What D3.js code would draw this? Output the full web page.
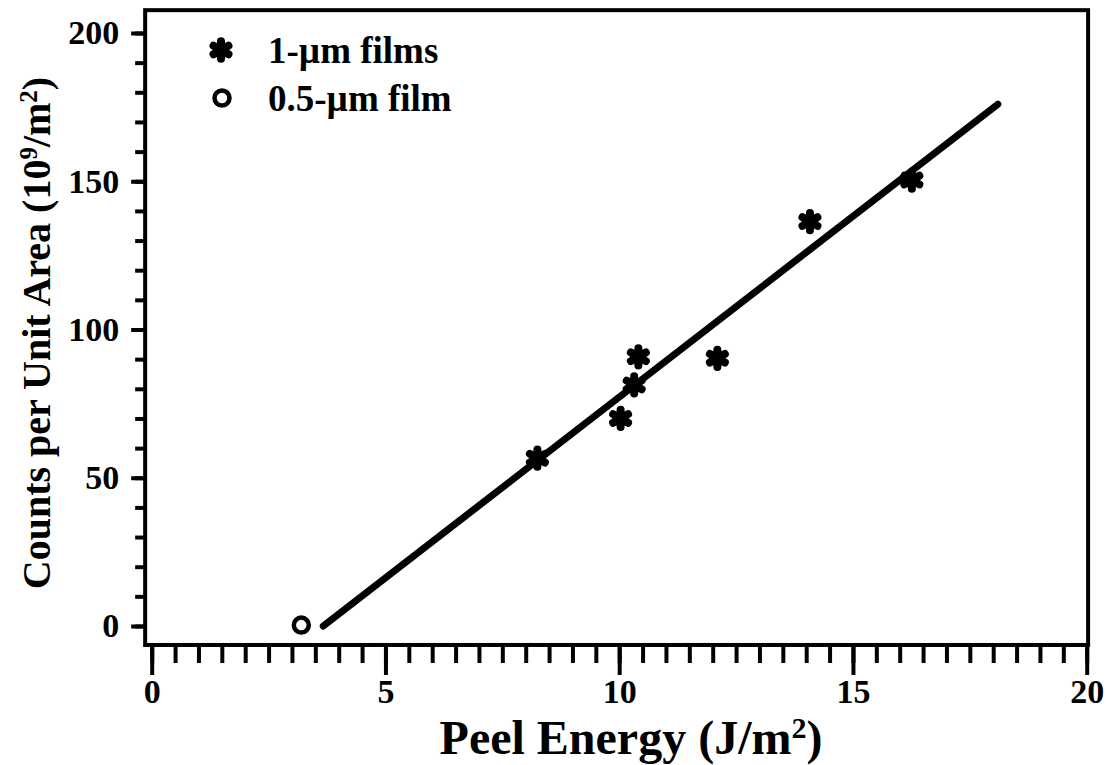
<!DOCTYPE html>
<html>
<head>
<meta charset="utf-8">
<script src="https://cdn.jsdelivr.net/npm/d3@7"></script>
<style>
  body { margin: 0; background: #fff; }
  text { font-family: "Liberation Serif", "Times New Roman", serif; font-weight: bold; fill: #000; }
</style>
</head>
<body>
<script>

// 1-um films (asterisks)
var peel_thick = [8.25, 10.03, 10.32, 10.41, 12.1, 14.08, 16.26];
var count_thick = [56.6, 70.0, 81.3, 90.8, 90.3, 136.4, 150.4];

// 0.5-um film (open circle)
var peel_thin = [3.2];
var count_thin = [0.3];

// fitted line ends
var fit_peel = [3.67, 18.1];
var fit_count = [0, 176];

var x_ticks = [0, 5, 10, 15, 20];
var y_ticks = [0, 50, 100, 150, 200];
var legend_labels = ["1-\u00b5m films", "0.5-\u00b5m film"];

var w = 1107, h = 765;

var svg = d3.select("body")
  .append("svg")
  .attr("width", w)
  .attr("height", h);

var x = d3.scaleLinear()
  .domain([0, 20])
  .range([151.7, 1086.7]);

var y = d3.scaleLinear()
  .domain([0, 200])
  .range([626, 33]);

// frame edges (top/bottom named so they don't clash with window.top)
var frameL = x(-0.14), frameR = x(20.03),
    frameT = y(207.7), frameB = y(-6.4);

//minor + major ticks, x axis
var xMinor = d3.axisBottom(x)
  .tickValues(d3.range(0, 20.01, 0.5))
  .tickSize(18)
  .tickFormat("");

svg.append("g")
  .attr("transform", "translate(0," + frameB + ")")
  .call(xMinor)
  .call(g => g.select(".domain").remove())
  .selectAll("line").attr("stroke-width", 4);

var xAxis = d3.axisBottom(x)
  .tickValues(x_ticks)
  .tickSize(30)
  .tickPadding(4)
  .tickFormat(d3.format("d"));

svg.append("g")
  .attr("transform", "translate(0," + frameB + ")")
  .call(xAxis)
  .call(g => g.select(".domain").remove())
  .call(g => g.selectAll("line").attr("stroke-width", 4))
  .selectAll("text")
  .style("font-size", "34px");

//y axis
var yMinor = d3.axisLeft(y)
  .tickValues(d3.range(0, 200.1, 10))
  .tickSize(10)
  .tickFormat("");

svg.append("g")
  .attr("transform", "translate(" + frameL + ",0)")
  .call(yMinor)
  .call(g => g.select(".domain").remove())
  .selectAll("line").attr("stroke-width", 4);

var yAxis = d3.axisLeft(y)
  .tickValues(y_ticks)
  .tickSize(14)
  .tickPadding(12)
  .tickFormat(d3.format("d"));

svg.append("g")
  .attr("transform", "translate(" + frameL + ",0)")
  .call(yAxis)
  .call(g => g.select(".domain").remove())
  .call(g => g.selectAll("line").attr("stroke-width", 4))
  .selectAll("text")
  .style("font-size", "34px");

// frame
svg.append("rect")
  .attr("x", frameL)
  .attr("y", frameT)
  .attr("width", frameR - frameL)
  .attr("height", frameB - frameT)
  .attr("fill", "none")
  .attr("stroke", "#000")
  .attr("stroke-width", 4);

// fit line
var line = d3.line()
  .x((d, i) => x(fit_peel[i]))
  .y((d) => y(d));

svg.append("path")
  .attr("d", line(fit_count))
  .attr("fill", "none")
  .attr("stroke", "#000")
  .attr("stroke-width", 7)
  .attr("stroke-linecap", "round");

// asterisks
var star = d3.symbol().type(d3.symbolAsterisk).size(210);

svg.selectAll(".star")
  .data(peel_thick)
  .enter()
  .append("path")
  .attr("class", "star")
  .attr("d", star)
  .attr("transform", (d, i) => "translate(" + x(d) + "," + y(count_thick[i]) + ")")
  .attr("fill", "none")
  .attr("stroke", "#000")
  .attr("stroke-width", 8)
  .attr("stroke-linecap", "round");

svg.selectAll(".ring")
  .data(peel_thin)
  .enter()
  .append("circle")
  .attr("class", "ring")
  .attr("cx", (d) => x(d))
  .attr("cy", (d, i) => y(count_thin[i]))
  .attr("r", 7.5)
  .attr("fill", "none")
  .attr("stroke", "#000")
  .attr("stroke-width", 4.5);

// legend
var lg = svg.append("g");

lg.append("path")
  .attr("d", star)
  .attr("transform", "translate(221,50)")
  .attr("fill", "none")
  .attr("stroke", "#000")
  .attr("stroke-width", 8)
  .attr("stroke-linecap", "round");

lg.append("circle")
  .attr("cx", 222)
  .attr("cy", 98)
  .attr("r", 7.5)
  .attr("fill", "none")
  .attr("stroke", "#000")
  .attr("stroke-width", 4.5);

lg.selectAll(".lt")
  .data(legend_labels)
  .enter()
  .append("text")
  .attr("class", "lt")
  .attr("x", 268)
  .attr("y", (d, i) => 50 + i * 48)
  .attr("dy", "0.35em")
  .style("font-size", "37px")
  .text((d) => d);

// axis titles
var xt = svg.append("text")
  .attr("x", 631)
  .attr("y", 754)
  .attr("text-anchor", "middle")
  .style("font-size", "48px")
  .text("Peel Energy (J/m");
xt.append("tspan").attr("baseline-shift", "super").style("font-size", "30px").text("2");
xt.append("tspan").text(")");

var yt = svg.append("text")
  .attr("transform", "translate(50," + 333 + ") rotate(-90)")
  .attr("text-anchor", "middle")
  .style("font-size", "40px")
  .text("Counts per Unit Area (10");
yt.append("tspan").attr("baseline-shift", "super").style("font-size", "25px").text("9");
yt.append("tspan").text("/m");
yt.append("tspan").attr("baseline-shift", "super").style("font-size", "25px").text("2");
yt.append("tspan").text(")");

</script>
</body>
</html>
